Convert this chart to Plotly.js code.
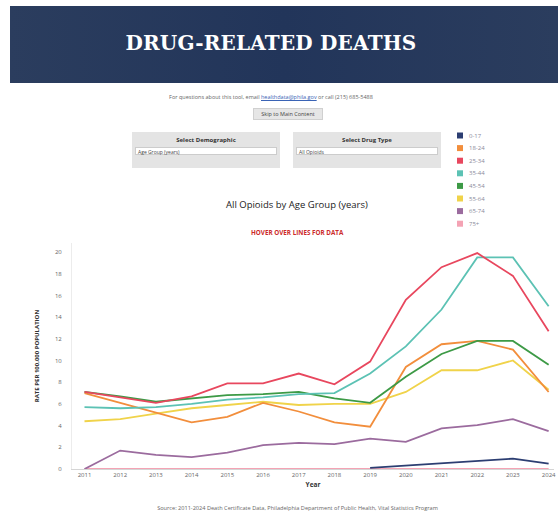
<!DOCTYPE html>
<html>
<head>
<meta charset="utf-8">
<script src="https://cdn.plot.ly/plotly-3.0.1.min.js"></script>
<style>
  html, body { margin: 0; padding: 0; background: #fff; width: 558px; height: 517px; overflow: hidden; font-family: "Open Sans", sans-serif; }
  #banner { position: absolute; left: 10px; top: 6px; width: 548px; height: 77px;
    background: linear-gradient(to right, #2b3d5e, #22355a 50%, #2b3d5e); }
  #banner h1 { position: absolute; left: 0; width: 522px; top: 25px; margin: 0; text-align: center;
    font-family: "DejaVu Serif", serif; font-weight: bold; font-size: 20px; color: #fff; letter-spacing: 0.2px; }
  #contact { position: absolute; left: 120px; width: 302px; top: 93px; text-align: center; font-size: 5.5px; color: #666; }
  #contact span { color: #3a63b5; text-decoration: underline; }
  #skip { position: absolute; left: 253px; top: 108px; width: 70px; height: 12px; background: #e6e6e6; border: 1px solid #d0d0d0;
    box-sizing: border-box; font-size: 5.5px; color: #444; text-align: center; line-height: 10px; }
  .panel { position: absolute; top: 132px; width: 148px; height: 36px; background: #e4e4e4; z-index: 5; }
  .panel .lab { position: absolute; left: 0; width: 100%; top: 4px; text-align: center; font-size: 6px; font-weight: bold; color: #333; }
  .panel .sel { position: absolute; left: 3px; right: 3px; top: 15px; height: 8px; background: #fff; border: 1px solid #ccc;
    font-size: 5px; color: #444; line-height: 8px; padding-left: 2px; box-sizing: border-box; }
  #p1 { left: 132px; }
  #p2 { left: 293px; }
  #source { position: absolute; left: 100px; width: 395px; top: 504px; text-align: center; font-size: 5.6px; color: #666; }
  #chart { position: absolute; left: 0; top: 125px; width: 558px; height: 375px; }
</style>
</head>
<body>
<div id="banner"><h1>DRUG-RELATED DEATHS</h1></div>
<div id="contact">For questions about this tool, email <span>healthdata@phila.gov</span> or call (215) 685-5488</div>
<div id="skip">Skip to Main Content</div>
<div class="panel" id="p1"><div class="lab">Select Demographic</div><div class="sel">Age Group (years)</div></div>
<div class="panel" id="p2"><div class="lab">Select Drug Type</div><div class="sel">All Opioids</div></div>
<div id="chart"></div>
<div id="source">Source: 2011-2024 Death Certificate Data, Philadelphia Department of Public Health, Vital Statistics Program</div>
<script>
const years = [2011, 2012, 2013, 2014, 2015, 2016, 2017, 2018, 2019, 2020, 2021, 2022, 2023, 2024];
const ageGroups = ['0-17', '18-24', '25-34', '35-44', '45-54', '55-64', '65-74', '75+'];
const age0_17  = [null, null, null, null, null, null, null, null, 0.1, 0.3, 0.5, 0.7, 0.95, 0.5];
const age18_24 = [7.0, 6.1, 5.2, 4.3, 4.8, 6.1, 5.3, 4.3, 3.9, 9.4, 11.5, 11.8, 11.0, 7.1];
const age25_34 = [7.1, 6.6, 6.1, 6.7, 7.9, 7.9, 8.8, 7.8, 9.9, 15.6, 18.6, 19.9, 17.8, 12.7];
const age35_44 = [5.7, 5.6, 5.7, 6.0, 6.4, 6.6, 6.9, 7.0, 8.8, 11.3, 14.7, 19.5, 19.5, 15.0];
const age45_54 = [7.1, 6.7, 6.2, 6.5, 6.8, 6.9, 7.1, 6.5, 6.1, 8.5, 10.6, 11.8, 11.8, 9.6];
const age55_64 = [4.4, 4.6, 5.1, 5.6, 5.9, 6.2, 5.9, 6.0, 6.0, 7.1, 9.1, 9.1, 10.0, 7.3];
const age65_74 = [0, 1.7, 1.3, 1.1, 1.5, 2.2, 2.4, 2.3, 2.8, 2.5, 3.75, 4.05, 4.6, 3.5];
const age75plus = [0, 0, 0, 0, 0, 0, 0, 0, 0, 0, 0, 0, 0, 0];
const seriesList = [age0_17, age18_24, age25_34, age35_44, age45_54, age55_64, age65_74, age75plus];
const chartTitle = 'All Opioids by Age Group (years)';
const noteText = 'HOVER OVER LINES FOR DATA';
const yTitle = 'RATE PER 100,000 POPULATION';
const xTitle = 'Year';

const colors = ['#2c3e72', '#f28e3c', '#e8475e', '#5cc2b4', '#3d9a46', '#f0d34a', '#9b6b9e', '#f4a3b4'];
const drawOrder = [7, 0, 6, 5, 1, 4, 3, 2];

const traces = drawOrder.map(i => ({
  type: 'scatter', mode: 'lines', name: ageGroups[i],
  x: years, y: seriesList[i],
  line: { color: colors[i], width: 1.8 },
  showlegend: false, connectgaps: false
}));

// plot area geometry (pixels within div)
const L = 72, R = 4, T = 118, B = 31, W = 558, H = 375;
const pw = W - L - R, ph = H - T - B;
const px = X => (X - L) / pw;            // X relative to div
const py = Y => (T + ph - Y) / ph;        // Y relative to div

const shapes = [];
const annotations = [];
ageGroups.forEach((g, i) => {
  const yc = 10.5 + 12.6 * i;
  shapes.push({ type: 'rect', xref: 'paper', yref: 'paper', xsizemode: 'pixel', ysizemode: 'pixel',
    xanchor: px(460), yanchor: py(yc), x0: -3, x1: 3, y0: -3, y1: 3,
    fillcolor: colors[i], line: { width: 0 } });
  annotations.push({ xref: 'paper', yref: 'paper', x: px(467), y: py(yc), xanchor: 'left', yanchor: 'middle',
    text: g, showarrow: false, font: { size: 6, color: '#8a8a9a', family: 'Open Sans' } });
});
annotations.push({ xref: 'paper', yref: 'paper', x: px(297), y: py(79), xanchor: 'center', yanchor: 'middle',
  text: chartTitle, showarrow: false, font: { size: 9.5, color: '#222', family: 'Open Sans' } });
annotations.push({ xref: 'paper', yref: 'paper', x: px(297), y: py(108), xanchor: 'center', yanchor: 'middle',
  text: '<b>' + noteText + '</b>', showarrow: false, font: { size: 6.3, color: '#cc2a2a', family: 'Open Sans' } });

const layout = {
  width: W, height: H,
  margin: { l: L, r: R, t: T, b: B, pad: 0 },
  paper_bgcolor: 'rgba(0,0,0,0)', plot_bgcolor: '#fff',
  showlegend: false,
  xaxis: {
    range: [2010.65, 2024.15], dtick: 1, tick0: 2011, showgrid: false, zeroline: false,
    showline: true, linecolor: '#d5d5d5', linewidth: 1, ticks: '',
    tickfont: { size: 6, color: '#666', family: 'Open Sans' },
    title: { text: '<b>' + xTitle + '</b>', font: { size: 6.5, color: '#333', family: 'Open Sans' }, standoff: 4 }
  },
  yaxis: {
    range: [0, 20.83], dtick: 2, tick0: 0, showgrid: false, zeroline: false,
    showline: true, linecolor: '#ececec', linewidth: 1, ticks: '', ticklabelstandoff: 8,
    tickfont: { size: 6, color: '#666', family: 'Open Sans' },
    title: { text: '<b>' + yTitle + '</b>', font: { size: 6, color: '#333', family: 'Open Sans' }, standoff: 14 }
  },
  shapes: shapes,
  annotations: annotations
};

Plotly.newPlot('chart', traces, layout, { displayModeBar: false, staticPlot: true });
</script>
</body>
</html>
